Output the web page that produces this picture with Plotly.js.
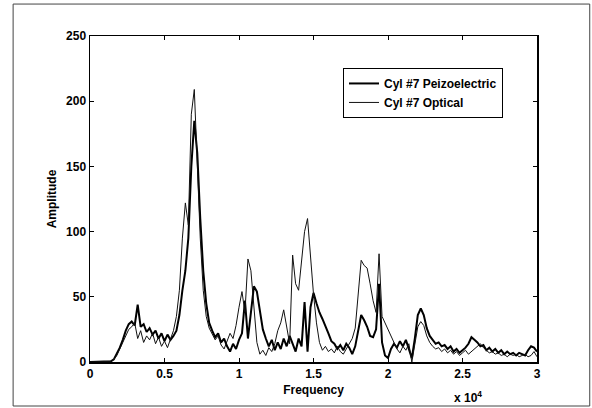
<!DOCTYPE html>
<html>
<head>
<meta charset="utf-8">
<script src="https://cdn.plot.ly/plotly-3.0.1.min.js"></script>
<style>
  html, body { margin: 0; padding: 0; background: #fff; }
  #chart { width: 592px; height: 408px; }
</style>
</head>
<body>
<div id="chart"></div>
<script>
// Spectrum sampled every 200 Hz from 0 to 30 kHz
const freqStep = 200;
const piezoAmp = [
  0, 0, 0, 0, 0, 0, 0, 0.5, 2, 6,
  11, 17, 24, 29, 31, 28, 44, 27, 29, 23,
  26, 21, 24, 18, 22, 16, 21, 17, 20, 24,
  36, 55, 70, 95, 150, 185, 160, 110, 70, 45,
  30, 24, 19, 22, 15, 18, 12, 8, 14, 10,
  17, 22, 47, 18, 40, 58, 54, 40, 25, 18,
  12, 17, 9, 15, 10, 18, 12, 20, 14, 8,
  18, 12, 46, 8, 42, 53, 45, 38, 33, 28,
  22, 16, 14, 10, 13, 9, 14, 11, 6, 12,
  25, 36, 32, 27, 20, 19, 25, 60, 15, 5,
  3, 10, 14, 11, 16, 12, 17, 10, 3, 18,
  36, 41, 36, 26, 20, 17, 14, 15, 12, 13,
  10, 12, 8, 10, 7, 9, 11, 14, 19, 17,
  15, 12, 13, 9, 11, 8, 10, 7, 9, 6,
  8, 6, 7, 5, 7, 6, 5, 9, 12, 11,
  8
];
const opticalAmp = [
  0, 0, 0, 0, 0, 0, 0, 0.5, 2, 5,
  10, 15, 20, 25, 27, 30, 18, 24, 15, 20,
  17, 22, 14, 19, 12, 16, 11, 18, 24, 35,
  55, 95, 122, 105, 190, 209, 150, 95, 55, 35,
  26, 22, 17, 20, 13, 10, 16, 22, 18, 28,
  42, 54, 38, 79, 70, 42, 15, 6, 9, 5,
  11, 8, 14, 24, 30, 40, 26, 14, 82, 60,
  55, 75, 100, 110, 80, 52, 30, 15, 9, 12,
  8, 10, 7, 12, 8, 6, 10, 14, 18, 26,
  50, 78, 74, 72, 60, 47, 38, 83, 35, 30,
  26, 20, 16, 10, 7, 12, 9, 14, 0, 15,
  27, 31, 28, 20, 15, 12, 10, 11, 8, 10,
  7, 9, 6, 8, 5, 7, 9, 6, 8, 10,
  12, 14, 11, 9, 7, 8, 6, 7, 5, 6,
  4, 6, 5, 6, 4, 5, 6, 4, 5, 8,
  4
];
const xTickVals = [0, 5000, 10000, 15000, 20000, 25000, 30000];
const xTickText = ['0', '0.5', '1', '1.5', '2', '2.5', '3'];
const yTickVals = [0, 50, 100, 150, 200, 250];
const seriesNames = ['Cyl #7 Peizoelectric', 'Cyl #7 Optical'];

const freq = piezoAmp.map((_, i) => i * freqStep);
const font = { family: 'Liberation Sans, Arial, sans-serif', size: 12, color: '#000', weight: 'bold' };

const traces = [
  { x: freq, y: piezoAmp, name: seriesNames[0], mode: 'lines',
    line: { color: '#000', width: 2 } },
  { x: freq, y: opticalAmp, name: seriesNames[1], mode: 'lines',
    line: { color: '#111', width: 1 } }
];

const axisCommon = {
  showgrid: false, zeroline: false, showline: true, linecolor: '#000', linewidth: 1.5,
  mirror: 'ticks', ticks: 'inside', ticklen: 4, tickwidth: 1, tickcolor: '#000',
  tickfont: font
};

const layout = {
  width: 592, height: 408,
  margin: { l: 90, r: 55, t: 36, b: 46 },
  paper_bgcolor: '#fff', plot_bgcolor: '#fff',
  font: font,
  showlegend: true,
  legend: {
    x: 0.566, y: 0.902, xanchor: 'left', yanchor: 'top',
    bgcolor: '#fff', bordercolor: '#000', borderwidth: 1,
    font: font, tracegroupgap: 0, itemwidth: 30
  },
  xaxis: Object.assign({}, axisCommon, {
    range: [0, 30000], tickvals: xTickVals, ticktext: xTickText,
    title: { text: 'Frequency', font: font, standoff: 5 }
  }),
  yaxis: Object.assign({}, axisCommon, {
    range: [0, 250], tickvals: yTickVals,
    title: { text: 'Amplitude', font: font, standoff: 7 }
  }),
  annotations: [{
    xref: 'paper', yref: 'paper', x: 0.81, y: -0.108, xanchor: 'left', yanchor: 'middle',
    text: 'x 10<sup>4</sup>', showarrow: false, font: font
  }],
  shapes: [{
    type: 'rect', xref: 'paper', yref: 'paper',
    x0: -0.172, x1: 1.118, y0: -0.135, y1: 1.098,
    line: { color: '#444', width: 1 }
  }]
};

Plotly.newPlot('chart', traces, layout, { displayModeBar: false, staticPlot: true });
</script>
</body>
</html>
